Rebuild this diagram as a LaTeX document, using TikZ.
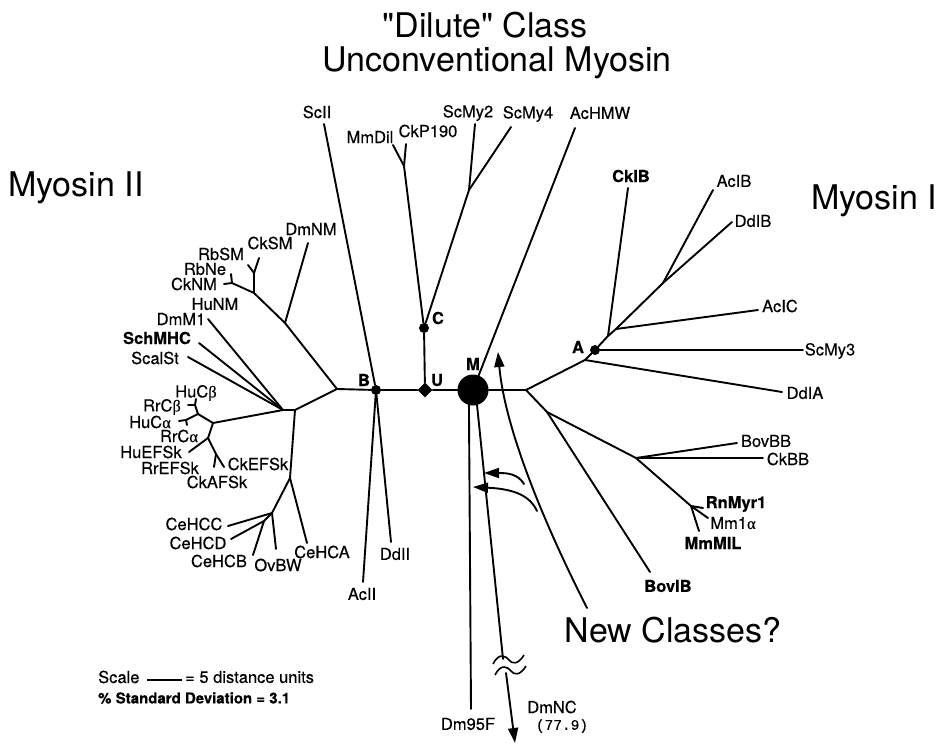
\documentclass[tikz,border=0pt]{standalone}
\usepackage{fontspec}
\setmainfont{TeX Gyre Heros}[FakeBold=0.35, BoldFeatures={FakeBold=0.35}]
\newfontfamily\headfont{TeX Gyre Heros}
\newfontfamily\monofont{Liberation Mono}[FakeBold=0.3]
\newfontfamily\greekfont{Liberation Serif}[FakeBold=0.3]
\newcommand{\galpha}{{\greekfont α}}
\newcommand{\gbeta}{{\greekfont β}}
\usetikzlibrary{arrows.meta,shapes.geometric}

\begin{document}
\begin{tikzpicture}[x=1pt,y=-1pt,
  branch/.style={line width=1.9pt, line cap=round, line join=round},
  leaf/.style={inner sep=0pt, font=\fontsize{16.5}{18}\selectfont},
  bleaf/.style={inner sep=0pt, font=\fontsize{16.5}{18}\selectfont\bfseries},
  heading/.style={inner sep=0pt, font=\headfont\fontsize{34}{40}\selectfont},
  ptlabel/.style={inner sep=0pt, font=\fontsize{16.5}{18}\selectfont\bfseries},
  dotnode/.style={circle, fill, inner sep=0pt, minimum size=10pt},
  tipped/.style={-{Triangle[length=15pt,width=10pt]}}
]
\useasboundingbox (0,0) rectangle (946,744);

% ---------- headings ----------
\node[heading] (hdil1) at (485,25) {"Dilute" Class};
\node[heading] (hdil2) at (497,63) {Unconventional Myosin};
\node[heading] (hmyo2) at (76,188) {Myosin II};
\node[heading] (hmyo1) at (874,201) {Myosin I};
\node[heading] (hnew) at (673,630) {New Classes?};

% ---------- backbone ----------
\coordinate (L0) at (337,389);
\node[dotnode] (B) at (376,390) {};
\node[diamond, fill, inner sep=0pt, minimum size=15pt] (U) at (425,390) {};
\node[circle, fill, inner sep=0pt, minimum size=31pt] (M) at (473,390) {};
\coordinate (R0) at (526,390);
\draw[branch] (L0) -- (B) -- (U) -- (M) -- (R0);

\node[ptlabel] (lB) at (364,380) {B};
\node[ptlabel] (lU) at (437,380) {U};
\node[ptlabel] (lM) at (473,364) {M};

% ---------- dilute class ----------
\node[dotnode] (C) at (424,328) {};
\node[ptlabel] (lC) at (438,318) {C};
\draw[branch] (U) -- (C);
\coordinate (d1) at (404,166);
\coordinate (d2) at (469,190);
\coordinate (eMmDil) at (393,145);
\coordinate (eCkP) at (406,144);
\coordinate (eScMy2) at (475,124);
\coordinate (eScMy4) at (511,127);
\draw[branch] (C) -- (d1) -- (eMmDil);
\draw[branch] (d1) -- (eCkP);
\draw[branch] (C) -- (d2) -- (eScMy2);
\draw[branch] (d2) -- (eScMy4);
\node[leaf] (tMmDil) at (370,137) {MmDil};
\node[leaf] (tCkP) at (428,131) {CkP190};
\node[leaf] (tScMy2) at (468,113) {ScMy2};
\node[leaf] (tScMy4) at (528,114) {ScMy4};

\coordinate (eScII) at (324,124);
\draw[branch] (B) -- (eScII);
\node[leaf] (tScII) at (317,112) {ScII};

\coordinate (eAcHMW) at (575,128);
\draw[branch] (M) -- (eAcHMW);
\node[leaf] (tAcHMW) at (600,113) {AcHMW};

\coordinate (eAcII) at (363,582);
\coordinate (eDdII) at (391,542);
\draw[branch] (B) -- (eAcII);
\draw[branch] (B) -- (eDdII);
\node[leaf] (tAcII) at (362,594) {AcII};
\node[leaf] (tDdII) at (395,554) {DdII};

% ---------- long branches below M ----------
\coordinate (eDm95F) at (471,709);
\draw[branch] (M.255) -- (eDm95F);
\node[leaf] (tDm95F) at (468,724) {Dm95F};

\coordinate (brk1) at (503,659);
\coordinate (brk2) at (506,673);
\coordinate (eDmNC) at (515,743);
\draw[branch] (M.285) -- (brk1);
\draw[branch, tipped] (brk2) -- (eDmNC);
\draw[line width=1.6pt] (493,664) .. controls (499,652) and (506,656) .. (509,660)
   .. controls (512,664) and (518,665) .. (524,655);
\draw[line width=1.6pt] (495,675) .. controls (501,663) and (508,667) .. (511,671)
   .. controls (514,675) and (520,676) .. (526,666);
\node[leaf] (tDmNC) at (552,707) {DmNC};
\node[inner sep=0pt, font=\monofont\fontsize{14.5}{16}\selectfont] (tDmNCv) at (562,726) {(77.9)};

% ---------- myosin II ----------
\coordinate (m1) at (285,323);
\coordinate (m2) at (254,293);
\coordinate (m3) at (254,273);
\coordinate (m4) at (232,283);
\coordinate (eDmNM) at (308,243);
\coordinate (eRbSM) at (248,265);
\coordinate (eCkSM) at (259,258);
\coordinate (eRbNe) at (231,274);
\coordinate (eCkNM) at (224,284);
\draw[branch] (L0) -- (m1) -- (m2) -- (m3) -- (eRbSM);
\draw[branch] (m3) -- (eCkSM);
\draw[branch] (m1) -- (eDmNM);
\draw[branch] (m2) -- (m4) -- (eRbNe);
\draw[branch] (m4) -- (eCkNM);
\node[leaf] (tDmNM) at (311,229) {DmNM};
\node[leaf] (tCkSM) at (270,243) {CkSM};
\node[leaf] (tRbSM) at (221,254) {RbSM};
\node[leaf] (tRbNe) at (205,269) {RbNe};
\node[leaf] (tCkNM) at (194,284) {CkNM};
\node[leaf] (tHuNM) at (215,304) {HuNM};

\coordinate (m5) at (295,410);
\coordinate (m6) at (283,410);
\coordinate (eDmM1) at (208,319);
\coordinate (eSch) at (199,343);
\coordinate (eScal) at (188,357);
\draw[branch] (L0) -- (m5) -- (m6) -- (eDmM1);
\draw[branch] (m6) -- (eSch);
\draw[branch] (m6) -- (eScal);
\node[leaf] (tDmM1) at (181,319) {DmM1};
\node[bleaf] (tSch) at (157,338) {SchMHC};
\node[leaf] (tScal) at (155,358) {ScalSt};

% skeletal and cardiac
\coordinate (sk) at (213,423);
\coordinate (c1) at (198,414);
\coordinate (c2) at (195,405);
\coordinate (c3) at (186,420);
\coordinate (eRrCb) at (188,405);
\coordinate (eHuCb) at (196,399);
\coordinate (eHuCa) at (179,421);
\coordinate (eRrCa) at (187,425);
\draw[branch] (m6) -- (sk) -- (c1) -- (c2) -- (eRrCb);
\draw[branch] (c2) -- (eHuCb);
\draw[branch] (c1) -- (c3) -- (eHuCa);
\draw[branch] (c3) -- (eRrCa);
\node[leaf] (tHuCb) at (196,393) {HuC\gbeta};
\node[leaf] (tRrCb) at (162,407) {RrC\gbeta};
\node[leaf] (tHuCa) at (150,422) {HuC\galpha};
\node[leaf] (tRrCa) at (179,436) {RrC\galpha};

\coordinate (f1) at (208,438);
\coordinate (f2) at (216,454);
\coordinate (eHuEF) at (189,452);
\coordinate (eCkAF) at (214,467);
\coordinate (eCkEF) at (224,467);
\draw[branch] (sk) -- (f1) -- (eHuEF);
\draw[branch] (f1) -- (f2) -- (eCkAF);
\draw[branch] (f2) -- (eCkEF);
\node[leaf] (tHuEF) at (151,452) {HuEFSk};
\node[leaf] (tRrEF) at (170,468) {RrEFSk};
\node[leaf] (tCkAF) at (217,482) {CkAFSk};
\node[leaf] (tCkEF) at (258,464) {CkEFSk};

% nematode and related heavy chains
\coordinate (n1) at (290,478);
\coordinate (n2) at (272,513);
\coordinate (n3) at (264,521);
\coordinate (eCeHCA) at (307,543);
\coordinate (eCeHCC) at (228,526);
\coordinate (eCeHCD) at (231,539);
\coordinate (eCeHCB) at (253,555);
\coordinate (eOvBW) at (276,549);
\draw[branch] (m5) -- (n1) -- (eCeHCA);
\draw[branch] (n1) -- (n2) -- (eCeHCC);
\draw[branch] (n2) -- (eOvBW);
\draw[branch] (n2) -- (n3) -- (eCeHCD);
\draw[branch] (n3) -- (eCeHCB);
\node[leaf] (tCeHCC) at (194,524) {CeHCC};
\node[leaf] (tCeHCD) at (198,543) {CeHCD};
\node[leaf] (tCeHCB) at (219,561) {CeHCB};
\node[leaf] (tOvBW) at (278,565) {OvBW};
\node[leaf] (tCeHCA) at (322,552) {CeHCA};

% ---------- myosin I ----------
\coordinate (r1) at (585,360);
\node[dotnode] (A) at (595,350) {};
\node[ptlabel] (lA) at (578,347) {A};
\coordinate (a1) at (608,336);
\coordinate (a2) at (616,329);
\coordinate (a3) at (663,283);
\coordinate (eDdIA) at (782,392);
\coordinate (eScMy3) at (803,350);
\coordinate (eCkIB) at (628,188);
\coordinate (eAcIC) at (758,310);
\coordinate (eAcIB) at (713,190);
\coordinate (eDdIB) at (732,222);
\draw[branch] (R0) -- (r1) -- (A) -- (a1) -- (a2) -- (a3) -- (eAcIB);
\draw[branch] (r1) -- (eDdIA);
\draw[branch] (A) -- (eScMy3);
\draw[branch] (a1) -- (eCkIB);
\draw[branch] (a2) -- (eAcIC);
\draw[branch] (a3) -- (eDdIB);
\node[leaf] (tDdIA) at (805,393) {DdIA};
\node[leaf] (tScMy3) at (830,351) {ScMy3};
\node[bleaf] (tCkIB) at (631,176) {CkIB};
\node[leaf] (tAcIC) at (780,306) {AcIC};
\node[leaf] (tAcIB) at (734,181) {AcIB};
\node[leaf] (tDdIB) at (753,221) {DdIB};

\coordinate (r2) at (547,412);
\coordinate (r3) at (636,458);
\coordinate (r4) at (691,506);
\coordinate (eBovIB) at (650,572);
\coordinate (eBovBB) at (737,443);
\coordinate (eCkBB) at (763,458);
\coordinate (eRnMyr) at (703,508);
\coordinate (eMm1a) at (708,518);
\coordinate (eMmMIL) at (699,531);
\draw[branch] (R0) -- (r2) -- (eBovIB);
\draw[branch] (r2) -- (r3) -- (eBovBB);
\draw[branch] (r3) -- (eCkBB);
\draw[branch] (r3) -- (r4) -- (eRnMyr);
\draw[branch] (r4) -- (eMm1a);
\draw[branch] (r4) -- (eMmMIL);
\node[bleaf] (tBovIB) at (668,586) {BovIB};
\node[leaf] (tBovBB) at (766,441) {BovBB};
\node[leaf] (tCkBB) at (788,459) {CkBB};
\node[bleaf] (tRnMyr) at (736,504) {RnMyr1};
\node[leaf] (tMm1a) at (733,523) {Mm1\galpha};
\node[bleaf] (tMmMIL) at (713,543) {MmMIL};

% ---------- pointers to possible new classes ----------
\coordinate (nc0) at (587,608);
\coordinate (nctop) at (498,352);
\coordinate (nc1) at (537,511);
\coordinate (nc2) at (524,484);
\coordinate (nclow) at (473,487);
\coordinate (ncup) at (484,473);
\draw[branch, tipped] (nc0) .. controls (545,525) and (505,430) .. (nctop);
\draw[branch, tipped] (nc1) .. controls (530,496) and (515,489) .. (nclow);
\draw[branch, tipped] (nc2) .. controls (518,474) and (508,473) .. (ncup);

% ---------- scale ----------
\node[leaf, anchor=west] (tScale) at (98,677) {Scale};
\coordinate (sb1) at (147,680);
\coordinate (sb2) at (182,680);
\draw[line width=1.5pt] (sb1) -- (sb2);
\node[leaf, anchor=west] (tUnits) at (185,677) {= 5 distance units};
\node[inner sep=0pt, anchor=west, font=\fontsize{15}{17}\selectfont\bfseries] (tSD) at (98,698) {\% Standard Deviation = 3.1};
\end{tikzpicture}
\end{document}
